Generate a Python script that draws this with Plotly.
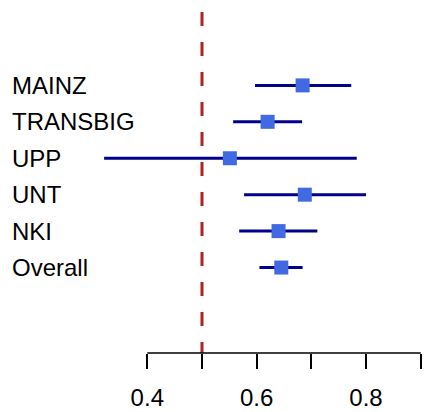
import plotly.graph_objects as go

studies = ["MAINZ", "TRANSBIG", "UPP", "UNT", "NKI", "Overall"]
estimate = [0.684, 0.620, 0.551, 0.688, 0.640, 0.645]
lower = [0.597, 0.557, 0.321, 0.577, 0.568, 0.605]
upper = [0.773, 0.683, 0.783, 0.800, 0.711, 0.684]
tick_vals = [0.4, 0.5, 0.6, 0.7, 0.8, 0.9]
tick_text = ["0.4", "", "0.6", "", "0.8", ""]
ref_value = 0.5

n = len(studies)
ypos = [n - i for i in range(n)]

fig = go.Figure()

# CI segments
xs, ys = [], []
for lo, hi, y in zip(lower, upper, ypos):
    xs += [lo, hi, None]
    ys += [y, y, None]
fig.add_trace(go.Scatter(x=xs, y=ys, mode="lines",
                         line=dict(color="#00008B", width=3),
                         hoverinfo="skip", showlegend=False))
fig.add_trace(go.Scatter(x=estimate, y=ypos, mode="markers",
                         marker=dict(symbol="square", size=14, color="#4169E1",
                                     line=dict(width=0)),
                         showlegend=False))

# reference dashed line
fig.add_shape(type="line", xref="x", yref="paper", x0=ref_value, x1=ref_value,
              y0=0.966, y1=0, line=dict(color="#B22222", width=3, dash="14px,16px"))
# axis line
fig.add_shape(type="line", xref="x", yref="paper", x0=tick_vals[0], x1=tick_vals[-1],
              y0=0, y1=0, line=dict(color="black", width=1.5))

for s, y in zip(studies, ypos):
    fig.add_annotation(x=0, xref="paper", y=y, yref="y", text=s, showarrow=False,
                       xanchor="left", xshift=10,
                       font=dict(family="Liberation Sans, Arial", size=24, color="black"))

fig.update_layout(
    width=424, height=412,
    margin=dict(l=0, r=0, t=0, b=59),
    paper_bgcolor="white", plot_bgcolor="white",
    xaxis=dict(range=[0.1306, 0.906], showgrid=False, zeroline=False, showline=False,
               tickvals=tick_vals, ticktext=tick_text, ticks="outside", ticklen=15,
               tickwidth=1.5, tickcolor="black", ticklabelstandoff=8,
               tickfont=dict(family="Liberation Sans, Arial", size=24, color="black")),
    yaxis=dict(range=[-1.346, 8.344], showgrid=False, zeroline=False, showline=False,
               showticklabels=False, ticks=""),
)

fig.write_html("out.html", config={"displayModeBar": False},
               post_script="document.body.style.margin='0';document.body.style.overflow='hidden';")
